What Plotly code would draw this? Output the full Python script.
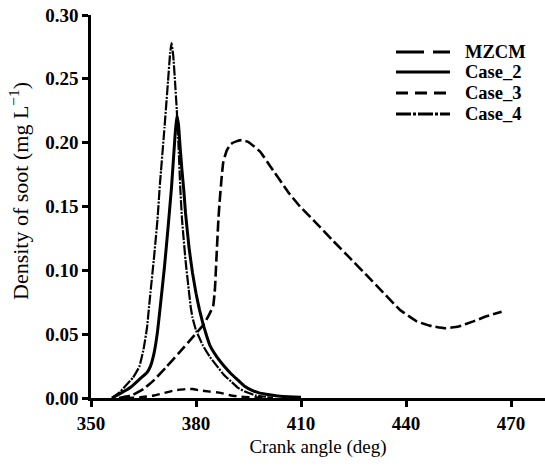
import plotly.graph_objects as go

# Crank angle (deg) and soot density (mg/L) per series
mzcm_x = [358, 361.6, 365, 368, 371.6, 375, 379.2, 382, 383.5, 384.9, 385.4, 385.9, 386.4, 386.7,
          387.3, 387.8, 388.8, 390, 391.5, 393, 395, 398.3, 401.1, 406.4, 409.7, 414, 419.2, 424,
          428.8, 433.5, 438.3, 443.1, 447, 451.1, 455, 459.2, 463, 467.3]
mzcm_y = [0.0, 0.002, 0.007, 0.014, 0.0245, 0.035, 0.048, 0.057, 0.064, 0.072, 0.085, 0.113, 0.140,
          0.152, 0.172, 0.185, 0.194, 0.199, 0.201, 0.202, 0.2005, 0.193, 0.182, 0.161, 0.150, 0.138,
          0.123, 0.1095, 0.096, 0.0825, 0.069, 0.060, 0.0565, 0.0546, 0.056, 0.060, 0.064, 0.0676]

case2_x = [356, 358, 360, 361.6, 364, 366, 367, 368, 369, 370, 371, 372, 373, 374, 374.5, 375, 375.5,
           376, 376.5, 377, 378, 379, 380, 381, 382, 383, 384, 386, 388, 390, 392, 394, 396, 398,
           400, 405, 410]
case2_y = [0.0, 0.003, 0.006, 0.009, 0.015, 0.020, 0.025, 0.035, 0.052, 0.077, 0.103, 0.133, 0.165,
           0.205, 0.221, 0.214, 0.195, 0.178, 0.163, 0.145, 0.118, 0.098, 0.082, 0.069, 0.058, 0.049,
           0.041, 0.032, 0.025, 0.019, 0.014, 0.009, 0.006, 0.004, 0.003, 0.0012, 0.0005]

case3_x = [360, 364, 368, 371, 374, 377, 379, 381, 384, 387, 390, 393, 397, 402]
case3_y = [0.0, 0.0005, 0.002, 0.004, 0.006, 0.007, 0.007, 0.006, 0.005, 0.004, 0.002, 0.001,
           0.0005, 0.0003]

case4_x = [356, 358, 359.7, 362, 363.8, 365, 366, 366.5, 367, 368, 369, 369.7, 370, 371, 372, 372.6,
           373, 373.5, 374, 374.5, 375, 375.5, 376, 377, 378, 378.5, 379, 380, 382, 384, 386, 388,
           390, 392, 394, 397, 400]
case4_y = [0.0, 0.004, 0.009, 0.016, 0.0245, 0.038, 0.055, 0.069, 0.083, 0.110, 0.140, 0.168, 0.178,
           0.212, 0.248, 0.270, 0.278, 0.268, 0.248, 0.226, 0.198, 0.165, 0.140, 0.108, 0.083, 0.071,
           0.063, 0.053, 0.041, 0.032, 0.025, 0.018, 0.013, 0.008, 0.005, 0.002, 0.001]

series_names = ["MZCM", "Case_2", "Case_3", "Case_4"]

x_ticks = [350, 380, 410, 440, 470]
y_ticks = [0.00, 0.05, 0.10, 0.15, 0.20, 0.25, 0.30]

x_title = "Crank angle (deg)"
y_title = "Density of soot (mg L<sup>\u22121</sup>)"

FONT = "Liberation Serif"

styles = {
    "MZCM": dict(width=2.6, dash="11px,4px"),
    "Case_2": dict(width=3.0, dash="solid"),
    "Case_3": dict(width=2.4, dash="8px,5px"),
    "Case_4": dict(width=2.2, dash="10px,1.5px,2px,1.5px"),
}
legend_dash = {
    "MZCM": "28px,9px",
    "Case_2": "solid",
    "Case_3": "12px,7px",
    "Case_4": "15px,2px,3px,2px",
}

data = {
    "MZCM": (mzcm_x, mzcm_y),
    "Case_2": (case2_x, case2_y),
    "Case_3": (case3_x, case3_y),
    "Case_4": (case4_x, case4_y),
}

fig = go.Figure()
for name in series_names:
    xs, ys = data[name]
    st = styles[name]
    fig.add_trace(go.Scatter(x=xs, y=ys, name=name, mode="lines", showlegend=False,
                             line=dict(color="black", width=st["width"], dash=st["dash"],
                                       shape="spline", smoothing=0.3)))

# Manual legend and y-title placement (paper coordinates)
W, H, L, T, B = 545, 466, 91, 15, 68
pw, ph = W - L, H - T - B
def px(xp):
    return (xp - L) / pw
def py(yp):
    return (H - B - yp) / ph

rows = [52, 72, 93, 114]
shapes, annotations = [], []
for name, ry in zip(series_names, rows):
    shapes.append(dict(type="line", xref="paper", yref="paper",
                       x0=px(396), x1=px(450), y0=py(ry), y1=py(ry),
                       line=dict(color="black", width=3, dash=legend_dash[name])))
    annotations.append(dict(text=name, xref="paper", yref="paper", x=px(463), y=py(ry),
                            xanchor="left", yanchor="middle", showarrow=False,
                            font=dict(family=FONT, size=18.5, color="black", weight="bold")))

annotations.append(dict(text=y_title, xref="paper", yref="paper", x=px(19), y=py(191),
                        xanchor="center", yanchor="middle", textangle=-90, showarrow=False,
                        font=dict(family=FONT, size=22, color="black")))

fig.update_layout(
    width=W, height=H,
    margin=dict(l=L, r=0, t=T, b=B),
    plot_bgcolor="white", paper_bgcolor="white",
    font=dict(family=FONT, color="black", size=19),
    showlegend=False,
    shapes=shapes, annotations=annotations,
    xaxis=dict(range=[350, 479.7], tickvals=x_ticks, ticktext=[str(v) for v in x_ticks],
               showline=True, linecolor="black", linewidth=2.5, mirror=False,
               ticks="outside", ticklen=6, tickwidth=2.5, tickcolor="black",
               showgrid=False, zeroline=False,
               tickfont=dict(family=FONT, size=19, color="black", weight="bold"),
               title=dict(text=x_title, font=dict(family=FONT, size=19, color="black"), standoff=8)),
    yaxis=dict(range=[0, 0.30], tickvals=y_ticks, ticktext=["%.2f" % v for v in y_ticks],
               showline=True, linecolor="black", linewidth=2.5, mirror=False,
               ticks="outside", ticklen=6, tickwidth=2.5, tickcolor="black",
               showgrid=False, zeroline=False,
               tickfont=dict(family=FONT, size=19, color="black", weight="bold")),
)

fig.write_html("out.html")
